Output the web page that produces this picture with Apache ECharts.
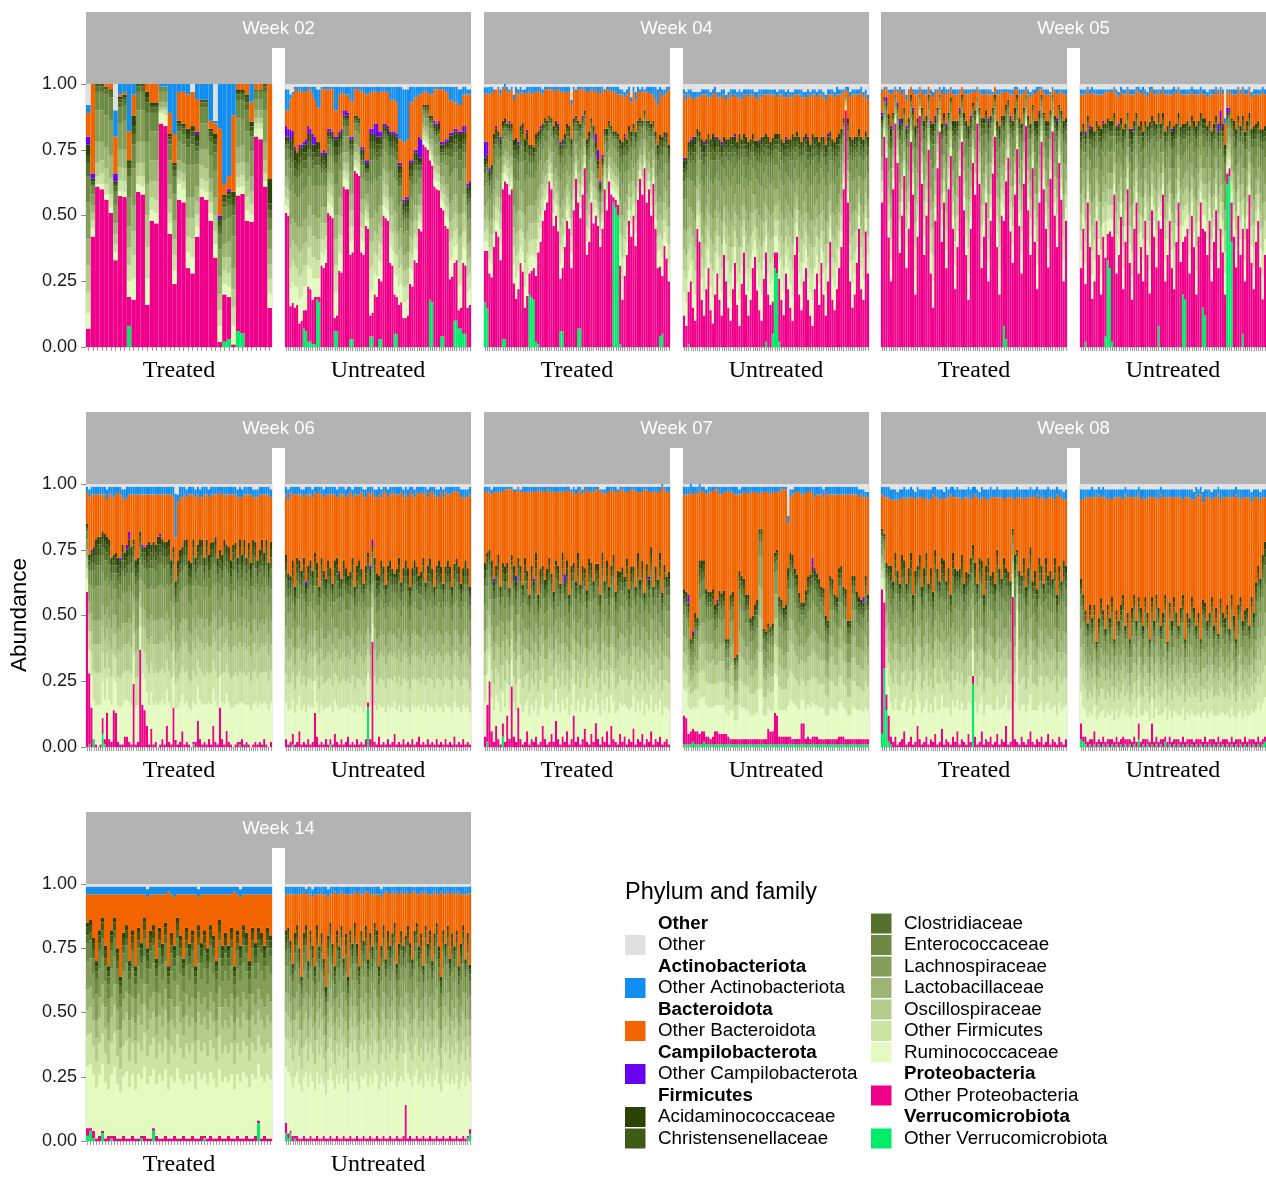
<!DOCTYPE html>
<html><head><meta charset="utf-8">
<script src="https://cdn.jsdelivr.net/npm/echarts@6/dist/echarts.min.js"></script>
<style>html,body{margin:0;padding:0;background:#fff}#c{width:1266px;height:1178px}</style>
</head><body><div id="c"></div>
<script>
// Stack order, bottom to top
const categories = ['Other Verrucomicrobiota','Other Proteobacteria','Ruminococcaceae','Other Firmicutes','Oscillospiraceae','Lactobacillaceae','Lachnospiraceae','Enterococcaceae','Clostridiaceae','Christensenellaceae','Acidaminococcaceae','Other Campilobacterota','Other Bacteroidota','Other Actinobacteriota','Other'];
const colors = ['#00ec68','#f0008a','#e3fbbf','#cbe4a3','#b3cc8c','#9cb574','#849e5a','#6c8a44','#56702e','#3d5a17','#2b4304','#6a00f0','#f26400','#118ef0','#e0e0e0'];
const weeks = ['Week 02','Week 04','Week 05','Week 06','Week 07','Week 08','Week 14'];
const groups = ['Treated','Untreated'];
const yTicks = [0, 0.25, 0.5, 0.75, 1];
// legend rows: [label, category index or -1 for bold phylum header]
const legendRows = [['Other',-1],['Other',14],['Actinobacteriota',-1],['Other Actinobacteriota',13],['Bacteroidota',-1],['Other Bacteroidota',12],['Campilobacterota',-1],['Other Campilobacterota',11],['Firmicutes',-1],['Acidaminococcaceae',10],['Christensenellaceae',9],
['Clostridiaceae',8],['Enterococcaceae',7],['Lachnospiraceae',6],['Lactobacillaceae',5],['Oscillospiraceae',4],['Other Firmicutes',3],['Ruminococcaceae',2],['Proteobacteria',-1],['Other Proteobacteria',1],['Verrucomicrobiota',-1],['Other Verrucomicrobiota',0]];

// one row per sample, columns in `categories` order (estimated read counts, in %)
const W02_Treated = [
[0,7,6,8,10,10,14,10,5,3,4,3,9,3,8],[0,42,3,3,3,3,4,3,1,1,1,2,34,0,0],[0,61,1,3,5,8,12,7,2,1,0,0,0,0,0],[0,60,2,4,5,7,12,7,2,1,0,0,0,0,0],[0,56,2,4,6,8,12,8,2,1,0,0,1,0,0],[0,51,2,5,6,9,13,9,2,1,0,0,2,0,0],
[0,33,3,3,4,4,7,5,2,1,1,3,14,10,10],[0,58,2,4,5,7,10,6,2,1,1,0,1,4,0],[0,57,2,4,5,7,11,6,2,1,1,0,1,3,0],[8,11,6,6,7,8,11,8,3,2,1,0,11,18,0],[0,18,8,9,9,10,14,9,4,3,4,0,8,4,0],[0,59,3,3,5,8,12,7,2,1,0,0,0,0,0],
[0,58,3,4,5,8,12,7,2,1,0,0,0,0,0],[0,16,10,12,12,12,16,11,4,2,2,0,3,0,0],[0,48,4,5,6,8,11,7,2,1,1,0,7,0,0],[0,47,4,5,7,8,11,7,2,1,1,0,7,0,0],[0,85,4,1,1,2,4,2,0,0,0,0,0,1,0],[0,84,4,2,1,2,4,2,0,0,0,0,0,1,0],
[0,43,4,4,5,6,9,6,2,1,1,0,8,11,0],[0,24,5,6,6,7,10,7,2,2,1,0,11,19,0],[0,56,6,2,3,4,7,4,2,1,1,0,11,3,0],[0,55,5,3,3,4,7,4,2,1,1,0,12,3,0],[0,30,6,6,7,8,12,7,3,2,2,0,13,4,0],[0,28,6,7,8,8,12,8,3,2,2,0,13,0,3],
[0,44,4,5,5,6,9,5,2,2,3,1,13,6,0],[0,57,3,4,5,6,10,6,2,1,0,0,0,6,0],[0,56,3,4,5,7,10,6,2,1,0,0,0,6,0],[0,48,3,4,4,5,9,5,2,2,1,0,3,14,0],[0,34,5,5,6,7,10,7,3,2,2,0,4,1,14],[0,2,6,6,6,7,10,6,3,2,1,1,33,17,0],
[2,18,4,5,5,5,9,5,2,2,1,0,4,38,0],[3,16,4,5,6,6,9,5,2,2,1,1,5,35,0],[0,1,7,7,7,8,12,8,4,3,2,0,29,12,0],[6,51,3,4,5,6,11,7,2,1,1,0,2,0,0],[5,52,3,4,5,6,10,7,2,1,1,0,2,0,0],[0,48,4,5,6,7,12,8,3,2,1,0,4,0,0],
[0,50,3,4,5,6,10,6,2,2,2,0,8,7,0],[0,80,3,2,2,3,4,3,1,0,0,0,2,0,0],[0,79,4,2,2,3,4,3,1,0,0,0,2,0,0],[0,61,2,3,5,7,12,7,2,1,0,0,0,0,0],[0,16,6,6,6,6,8,5,3,3,10,0,39,0,0]];

const W02_Untreated = [
[0,51,3,3,4,4,6,4,2,1,2,4,6,8,2],[0,50,3,3,4,4,7,4,2,1,2,3,7,8,2],
[0,16,7,8,8,9,13,9,4,3,4,4,12,2,4],[0,17,8,8,8,8,13,9,4,3,3,2,14,1,3],
[0,15,8,8,8,8,11,7,3,3,4,1,22,1,1],[0,16,7,7,8,8,11,7,3,3,4,0,23,2,1],
[0,9,9,9,9,9,12,8,4,3,4,1,21,1,1],[0,10,9,9,9,9,12,8,4,3,3,1,20,2,1],
[7,7,9,8,8,9,12,8,3,3,3,1,19,2,1],[6,8,9,8,9,9,12,7,3,3,3,2,18,2,1],
[2,21,8,7,8,8,11,7,3,3,3,3,14,1,1],[2,20,8,8,8,8,11,7,3,3,3,2,15,1,1],
[1,17,8,8,8,8,11,7,3,3,3,4,15,3,1],[1,18,7,8,8,8,12,7,3,2,3,3,14,5,1],
[18,1,7,7,8,8,12,8,3,3,3,0,13,7,2],[17,2,7,7,8,8,12,8,3,3,3,0,13,7,2],
[0,31,5,5,6,6,8,5,2,2,3,1,24,1,1],[0,30,5,6,6,6,9,5,2,2,3,1,23,1,1],[0,32,5,5,5,6,8,5,2,2,3,1,24,1,1],
[0,51,4,4,4,4,6,4,2,1,2,1,15,1,1],[0,50,4,4,4,4,7,4,2,1,2,1,15,1,1],[0,49,4,4,4,5,6,4,2,1,2,1,16,1,1],
[6,5,10,10,10,9,12,8,3,3,3,1,10,9,1],[6,6,9,10,10,9,12,8,3,3,3,1,10,9,1],
[0,29,7,7,7,7,10,6,3,2,3,1,14,3,1],[0,28,7,7,7,7,10,7,3,2,3,1,14,2,1],
[0,61,3,3,3,4,6,4,2,1,1,2,6,3,1],[0,60,4,3,3,4,6,4,2,1,1,2,6,3,1],[0,60,3,3,4,4,6,4,2,1,1,1,7,3,1],
[3,32,5,6,6,6,9,6,2,2,2,1,14,5,1],[3,33,5,5,6,6,9,6,2,2,2,1,13,6,1],
[0,67,2,2,3,3,5,3,1,1,1,0,10,1,1],[0,66,2,3,3,3,5,3,1,1,1,0,10,1,1],[0,65,2,3,3,3,5,3,1,1,1,0,11,1,1],
[0,36,5,5,5,5,8,5,2,2,2,1,21,2,1],[0,35,5,5,5,6,8,5,2,2,2,1,21,2,1],
[0,46,3,3,3,3,5,3,1,1,2,1,25,3,1],[0,45,3,3,3,4,5,3,1,1,2,1,25,3,1],
[4,8,9,9,10,9,13,9,4,3,3,2,14,2,1],[4,9,9,9,9,9,13,9,4,3,3,2,14,2,1],
[0,20,8,8,8,8,12,8,3,3,3,4,12,2,1],[0,19,8,8,8,8,12,8,3,3,3,5,12,2,1],
[3,23,7,7,7,7,11,7,3,2,3,2,15,2,1],[3,22,7,7,7,8,11,7,3,2,3,2,15,2,1],
[0,50,4,4,5,5,7,4,2,1,2,1,12,2,1],[0,49,4,4,5,5,7,5,2,1,2,1,12,2,1],[0,48,4,4,5,5,7,5,2,1,2,1,13,2,1],
[0,32,6,6,6,7,10,6,3,2,3,1,12,5,1],[0,31,6,6,7,7,10,6,3,2,3,1,12,5,1],
[5,15,8,8,8,8,12,8,3,3,3,1,12,5,1],[5,14,8,8,8,8,12,8,3,3,3,1,12,6,1],
[0,16,7,7,7,7,10,7,3,2,3,1,9,20,1],[0,17,7,7,7,7,10,6,3,2,3,1,9,20,1],
[0,11,6,6,6,6,8,5,2,2,3,1,22,20,2],[0,11,6,6,6,6,9,5,2,2,3,1,21,20,2],[0,12,6,6,6,6,8,5,2,2,3,1,22,19,2],
[0,24,6,6,6,6,9,6,2,2,3,1,22,6,1],[0,23,6,6,6,6,9,6,3,2,3,1,22,6,1],
[0,33,5,5,5,6,8,5,2,2,3,1,20,4,1],[0,32,5,5,6,6,8,5,2,2,3,1,20,4,1],
[0,45,3,3,3,4,6,3,2,1,2,8,16,3,1],[0,44,3,3,4,4,6,3,2,1,2,7,17,3,1],
[0,77,2,2,2,2,3,2,1,0,1,0,5,2,1],[0,76,2,2,2,2,3,2,1,1,1,0,5,2,1],[0,75,2,2,2,3,3,2,1,1,1,0,5,2,1],
[18,53,2,2,2,2,4,2,1,1,1,0,8,3,1],[17,52,2,2,3,3,4,2,1,1,1,0,8,3,1],
[0,61,3,3,3,3,5,3,1,1,2,1,12,1,1],[0,60,3,3,3,3,5,3,1,1,2,1,13,1,1],[0,59,3,3,3,4,5,3,1,1,2,1,12,1,1],
[4,49,3,3,3,3,5,3,1,1,2,1,20,1,1],[4,48,3,3,3,4,5,3,1,1,2,1,20,1,1],
[0,46,4,4,4,4,7,4,2,1,2,1,18,2,1],[0,45,4,4,4,5,7,4,2,1,2,1,18,2,1],
[0,25,7,7,7,7,10,7,3,2,3,1,12,5,1],[0,26,7,7,7,7,10,6,3,2,3,1,12,5,1],
[10,22,6,6,7,7,10,6,3,2,3,1,10,6,1],[10,23,6,6,6,7,10,6,3,2,3,1,10,6,1],
[7,7,9,9,9,9,13,8,4,3,3,1,10,6,2],[7,8,9,9,9,9,12,8,4,3,3,1,10,6,2],
[5,27,6,6,7,7,10,6,3,2,3,2,12,3,1],[5,26,6,7,7,7,10,6,3,2,3,2,12,3,1],
[0,15,6,6,6,6,9,6,2,2,3,1,34,2,2],[0,16,6,6,6,6,9,6,2,2,3,1,33,2,2]];

const W04_Treated = [
[14,16,3,3,4,4,6,4,2,1,2,5,15,2,1],[12,18,3,4,4,4,6,4,2,1,2,4,15,2,1],[0,28,5,5,5,5,8,5,2,2,2,1,28,3,1],[0,26,5,5,6,6,9,5,2,2,2,0,27,2,1],[0,38,5,5,6,6,9,6,2,2,2,0,16,1,2],[0,44,4,5,5,6,8,5,2,2,2,1,14,0,2],
[0,42,5,5,5,6,8,5,2,2,2,0,16,1,1],[0,33,6,6,6,6,9,6,3,2,2,1,16,2,2],[3,57,3,3,3,4,6,3,1,1,2,0,12,1,1],[3,60,3,3,3,3,5,3,1,1,2,0,12,1,0],[0,62,3,3,3,3,5,3,1,1,1,0,12,2,1],[0,58,3,3,4,4,6,3,1,1,2,1,11,1,2],
[0,60,3,3,3,4,5,3,1,1,2,0,13,1,1],[0,24,7,7,7,8,11,7,3,2,2,0,15,2,4],[0,18,8,8,8,8,12,8,3,2,3,0,17,2,1],[0,22,7,7,8,8,11,7,3,2,2,1,18,2,2],[0,30,6,6,7,7,10,6,3,2,2,0,12,2,1],[0,27,7,7,7,7,11,7,3,2,2,0,11,1,2],
[0,15,8,9,9,9,13,8,3,2,3,0,17,2,2],[0,19,8,8,8,9,12,8,3,2,3,1,14,2,1],[20,8,6,6,7,7,10,6,3,2,2,0,20,2,1],[19,10,6,6,6,7,10,6,3,2,2,0,19,3,1],[18,12,5,6,6,7,10,6,2,2,2,0,21,2,1],[2,25,7,7,7,8,11,7,3,2,2,0,16,2,1],
[1,35,5,6,6,7,10,6,2,2,2,0,15,2,1],[0,40,5,5,6,6,9,6,2,2,2,1,13,2,1],[0,48,4,5,5,5,8,5,2,1,2,0,11,2,2],[0,52,4,4,5,5,8,5,2,1,1,0,11,1,1],[0,55,3,4,4,5,7,4,2,1,1,0,12,1,1],[0,63,3,3,3,4,6,3,1,1,1,0,10,1,1],
[0,60,3,3,4,4,6,4,1,1,1,0,11,1,1],[0,46,5,5,5,5,8,5,2,1,2,0,13,2,1],[0,50,4,4,5,5,8,5,2,1,2,0,12,1,1],[0,44,5,5,5,6,8,5,2,2,2,1,13,1,1],[6,20,6,7,7,7,10,7,3,2,2,1,19,2,1],[6,24,6,6,7,7,10,6,3,2,2,0,18,2,1],
[0,38,5,5,6,6,9,6,2,2,2,0,16,2,1],[0,48,4,5,5,5,8,5,2,1,2,0,12,2,1],[0,45,4,5,5,6,8,5,2,2,2,0,13,2,1],[0,30,6,6,7,7,10,6,3,2,2,0,13,2,6],[0,52,4,4,5,5,8,4,2,1,2,0,11,1,1],[0,64,3,3,3,4,5,3,1,1,1,0,9,1,2],
[7,48,3,4,4,5,7,4,2,1,1,0,12,1,1],[7,42,4,4,5,5,8,5,2,1,2,0,13,1,1],[0,58,3,4,4,4,6,4,2,1,1,1,10,1,1],[0,68,2,3,3,3,5,3,1,1,1,0,8,1,1],[0,35,5,6,6,6,9,6,2,2,2,0,18,2,1],[0,40,5,5,6,6,9,5,2,2,2,0,15,2,1],
[0,55,4,4,4,5,7,4,2,1,1,0,11,1,1],[0,47,4,5,5,5,8,5,2,1,2,0,13,2,1],[0,50,3,3,4,4,6,3,2,1,2,3,17,1,1],[0,46,3,3,3,4,5,3,1,1,2,4,22,2,1],[0,38,3,3,3,3,5,3,1,1,2,1,33,3,1],[0,45,3,3,4,4,6,3,1,1,2,1,25,1,1],
[0,60,3,3,3,3,5,3,1,1,1,0,14,1,2],[0,52,4,4,4,4,6,4,2,1,2,0,15,1,1],[0,63,3,3,3,3,5,3,1,1,1,0,12,1,1],[0,58,3,3,4,4,6,3,1,1,1,0,13,2,1],[55,2,3,3,3,4,6,3,1,1,1,0,15,2,1],[53,3,3,3,3,4,6,4,1,1,1,0,15,2,1],
[50,4,4,3,3,4,6,4,1,1,1,0,15,3,1],[1,30,6,6,6,7,10,6,3,2,2,0,17,2,2],[0,18,8,8,8,8,12,8,3,2,3,0,18,2,2],[0,27,7,7,7,7,11,7,3,2,2,1,14,2,3],[0,35,5,6,6,6,9,6,2,2,2,0,17,2,2],[0,48,4,5,5,5,7,5,2,1,2,0,13,2,1],
[0,42,5,5,5,6,8,5,2,2,2,0,11,2,5],[0,50,4,4,5,5,7,5,2,1,2,0,12,2,1],[0,38,5,5,6,6,9,6,2,2,2,0,12,3,3],[0,56,3,4,4,4,7,4,2,1,1,0,11,2,1],[0,64,3,3,3,3,5,3,1,1,1,0,10,1,2],[0,58,3,4,4,4,6,4,1,1,1,0,11,2,1],
[0,68,2,3,3,3,5,3,1,1,1,0,7,1,2],[0,55,4,4,4,4,7,4,2,1,1,0,11,2,1],[0,60,3,3,4,4,6,3,1,1,1,0,11,2,1],[0,50,4,4,5,5,7,5,2,1,2,0,11,3,1],[0,62,3,3,3,4,5,3,1,1,1,0,10,3,1],[0,45,4,5,5,5,8,5,2,1,2,0,12,5,1],
[0,30,6,6,6,7,10,6,2,2,2,0,15,6,2],[4,26,6,6,7,7,10,6,3,2,2,0,16,2,1],[5,22,7,7,7,7,11,7,3,2,2,0,15,3,2],[0,38,5,5,6,6,9,6,2,2,2,0,14,2,2],[0,33,6,6,6,7,10,6,2,2,2,0,15,2,1],[0,25,7,7,7,7,10,7,3,2,2,0,21,1,1]];

const W04_Untreated = [
[0,12,9,8,8,8,11,7,3,2,3,1,24,2,2],[0,8,9,9,9,9,12,8,3,2,3,0,22,3,3],[1,20,8,8,8,8,11,7,3,2,2,0,18,2,2],[0,25,7,7,7,7,10,7,3,2,3,1,16,3,2],[0,15,9,9,9,9,12,8,3,2,3,1,14,3,3],[0,10,10,9,9,10,13,9,4,3,3,0,15,2,3],
[0,45,5,5,5,5,8,5,2,1,2,0,12,2,3],[0,40,5,5,6,6,9,5,2,2,2,0,13,2,3],[0,18,8,8,8,9,12,8,3,2,3,0,17,2,2],[0,12,9,9,9,9,13,8,3,2,3,1,18,2,2],[0,22,8,8,8,8,11,7,3,2,2,0,17,2,2],[0,30,7,7,7,7,10,6,3,2,2,0,14,3,2],
[0,14,9,9,9,9,13,8,3,2,3,0,16,2,3],[0,9,10,10,10,10,13,9,4,3,3,0,15,2,2],[0,20,8,8,8,8,12,7,3,2,3,1,17,2,1],[0,28,7,7,7,7,10,7,3,2,2,0,15,2,3],[0,18,8,8,8,9,12,8,3,2,3,0,16,2,3],[0,12,9,9,9,9,13,8,3,2,3,1,17,3,2],
[0,35,6,6,6,6,9,6,2,2,2,0,16,2,2],[0,25,7,7,7,8,11,7,3,2,2,0,15,2,4],[0,15,9,9,9,9,12,8,3,2,3,0,16,2,3],[0,10,9,9,10,10,13,9,4,3,3,0,16,2,2],[0,22,8,8,8,8,11,7,3,2,3,0,15,3,2],[0,32,6,6,7,7,10,6,2,2,2,1,15,2,2],
[0,16,8,8,9,9,12,8,3,2,3,0,17,2,3],[0,8,10,10,10,10,14,9,4,3,3,0,14,3,2],[0,24,7,7,8,8,11,7,3,2,2,0,15,3,3],[0,36,6,6,6,6,9,6,2,2,2,0,15,2,2],[0,20,8,8,8,8,12,8,3,2,3,0,16,2,2],[0,12,9,9,9,9,13,8,3,3,3,0,17,3,2],
[0,18,8,8,8,9,12,8,3,2,3,0,17,2,2],[0,30,7,7,7,7,10,6,3,2,2,0,15,2,2],[0,35,6,6,6,6,9,6,2,2,2,0,17,2,3],[0,22,8,8,8,8,11,7,3,2,3,0,16,3,3],[0,14,9,9,9,9,12,8,3,2,3,1,17,2,2],[0,10,10,9,9,10,13,9,4,3,3,0,15,3,2],
[0,26,7,7,7,8,11,7,3,2,2,0,16,2,2],[2,34,6,6,6,6,9,6,2,2,2,0,15,2,2],[0,20,8,8,8,8,12,8,3,2,3,0,16,2,2],[0,16,8,8,9,9,12,8,3,2,3,0,18,2,2],[5,12,8,8,8,9,12,8,3,2,3,0,16,2,2],[30,6,6,6,6,6,9,6,2,2,2,0,15,2,2],
[28,8,6,6,6,6,9,6,2,2,2,0,14,2,3],[2,24,7,7,8,8,11,7,3,2,2,0,15,2,2],[0,18,8,8,8,9,12,8,3,2,3,0,17,2,2],[0,12,9,9,9,9,13,8,3,2,3,0,17,3,2],[0,28,7,7,7,7,10,6,3,2,2,1,15,2,3],[0,22,8,8,8,8,11,7,3,2,2,0,17,2,2],
[0,15,9,9,9,9,12,8,3,2,3,0,16,2,3],[0,10,9,10,10,10,13,9,4,3,3,0,14,2,3],[0,35,6,6,6,6,9,6,2,2,2,0,16,2,2],[0,42,5,5,5,6,8,5,2,2,2,0,14,2,2],[0,20,8,8,8,8,12,8,3,2,3,0,16,2,2],[0,14,9,9,9,9,12,8,3,2,3,0,17,3,2],
[0,25,7,7,8,8,11,7,3,2,2,0,15,2,3],[0,30,7,7,7,7,10,6,3,2,2,0,14,2,3],[0,18,8,8,8,9,12,8,3,2,3,1,16,2,2],[0,12,9,9,9,9,13,8,3,2,3,0,18,2,3],[0,8,10,10,10,10,14,9,4,3,3,0,15,2,2],[0,22,8,8,8,8,11,7,3,2,3,0,16,2,2],
[0,28,7,7,7,7,10,7,3,2,2,0,15,2,3],[0,16,8,8,9,9,12,8,3,2,3,0,18,2,2],[0,32,6,6,7,7,10,6,2,2,2,0,16,2,2],[0,20,8,8,8,8,12,8,3,2,3,0,15,2,3],[0,12,9,9,9,9,13,8,3,2,3,0,17,2,4],[0,25,7,7,8,8,11,7,3,2,2,1,15,2,2],
[0,40,5,5,6,6,9,5,2,2,2,0,14,2,2],[0,18,8,8,8,9,12,8,3,2,3,0,17,2,2],[0,14,9,9,9,9,12,8,3,2,3,0,17,2,3],[0,22,8,8,8,8,11,7,3,2,3,0,16,3,1],[0,30,7,7,7,7,10,6,3,2,2,0,15,2,2],[0,38,6,6,6,6,9,6,2,2,2,0,13,2,2],
[0,60,3,3,4,4,6,4,1,1,1,0,10,1,2],[0,90,1,1,1,1,1,1,0,0,0,0,2,1,1],[0,55,4,4,4,4,7,4,2,1,2,0,10,2,1],[0,25,7,7,8,8,11,7,3,2,2,0,15,2,3],[0,15,9,9,9,9,12,8,3,2,3,0,17,2,2],[0,20,8,8,8,8,12,8,3,2,3,0,16,2,2],
[0,32,6,6,7,7,10,6,2,2,2,0,16,2,2],[0,45,5,5,5,5,8,5,2,1,2,0,13,2,2],[0,22,8,8,8,8,11,7,3,2,3,0,17,2,1],[0,18,8,8,8,9,12,8,3,2,3,0,16,2,3],[0,44,5,5,5,5,8,5,2,1,2,0,14,2,2],[0,28,7,7,7,7,10,7,3,2,2,0,14,2,4]];

const W05_Treated = [
[0,55,4,4,4,5,7,4,2,1,2,1,8,1,2],[0,80,2,2,2,2,3,2,1,0,1,0,4,0,1],[0,72,2,3,3,3,4,3,1,1,1,2,3,1,1],[0,40,6,6,6,6,9,6,2,2,2,0,8,1,2],[0,25,8,8,8,8,11,7,3,2,3,1,12,2,2],[0,60,4,4,4,4,6,4,1,1,1,0,8,1,2],
[0,85,2,1,1,2,2,2,1,0,0,0,2,1,1],[0,70,3,3,3,3,4,3,1,1,1,1,4,1,2],[0,35,6,6,7,7,10,6,2,2,2,2,11,1,1],[0,50,5,5,5,5,7,5,2,1,2,0,9,2,2],[0,65,3,3,3,4,6,4,1,1,1,0,6,1,2],[0,30,8,7,7,7,10,7,3,2,2,1,10,2,4],
[0,45,5,5,6,6,9,5,2,2,2,0,10,1,2],[0,78,2,2,2,3,4,2,1,1,1,0,3,0,1],[0,58,4,4,4,5,7,4,2,1,1,1,6,1,2],[0,20,9,9,9,9,12,8,3,2,3,0,12,2,2],[0,42,6,6,6,6,9,6,2,2,2,0,9,2,2],[0,88,1,1,1,1,2,1,1,0,0,0,2,1,1],
[0,62,4,4,4,4,6,4,1,1,1,0,6,1,2],[0,35,7,7,7,7,10,6,3,2,2,0,10,2,2],[0,50,5,5,5,5,8,5,2,1,2,0,8,2,2],[0,75,2,3,3,3,4,3,1,1,1,0,3,0,1],[0,28,8,8,8,8,11,7,3,2,2,1,10,2,2],[0,15,10,10,10,10,13,9,3,2,3,0,10,2,3],
[0,48,5,5,5,6,8,5,2,1,2,1,9,1,2],[0,68,3,3,3,3,5,3,1,1,1,0,6,1,2],[0,82,2,2,2,2,3,2,1,0,0,0,2,1,1],[0,40,6,6,6,6,9,6,2,2,2,0,11,2,2],[0,55,4,4,5,5,7,4,2,1,2,0,8,2,1],[0,30,7,7,7,8,11,7,3,2,2,1,11,2,2],
[0,60,4,4,4,4,6,4,1,1,1,0,8,1,2],[0,72,3,3,3,3,4,3,1,1,1,0,3,1,1],[0,45,5,5,6,6,8,5,2,2,2,0,10,2,2],[0,22,9,9,9,9,12,8,3,2,3,0,10,2,2],[0,38,6,6,7,7,10,6,2,2,2,0,10,2,2],[0,65,3,3,4,4,5,3,1,1,1,1,6,1,2],
[0,78,2,2,2,3,4,2,1,1,1,0,3,0,1],[0,52,5,5,5,5,7,5,2,1,2,0,8,1,2],[0,35,7,7,7,7,10,6,3,2,2,0,10,2,2],[0,18,10,10,9,9,12,8,3,2,3,0,12,2,2],[0,45,5,5,6,6,9,5,2,2,2,1,9,1,2],[0,70,3,3,3,3,5,3,1,1,1,0,4,1,2],
[0,58,4,4,4,5,7,4,2,1,1,0,7,1,2],[0,85,2,1,1,2,2,2,0,0,0,0,3,1,1],[0,62,4,4,4,4,6,4,1,1,1,0,6,1,2],[0,30,8,8,8,8,11,7,3,2,2,0,9,2,2],[0,42,6,6,6,6,9,6,2,2,2,0,9,2,2],[0,55,4,5,5,5,7,4,2,1,2,0,7,1,2],
[0,25,8,8,8,9,12,8,3,2,3,1,9,2,2],[0,48,5,5,6,6,8,5,2,1,2,0,8,2,2],[0,66,3,3,4,4,5,3,1,1,1,0,5,1,3],[0,80,2,2,2,2,3,2,1,1,1,0,3,0,1],[0,38,6,6,7,7,10,6,2,2,2,0,10,2,2],[0,20,9,9,9,9,12,8,3,2,3,0,12,2,2],
[0,50,5,5,5,5,8,5,2,1,2,0,9,1,2],[8,40,5,5,5,6,8,5,2,2,2,0,9,1,2],[3,60,4,4,4,4,6,4,1,1,1,0,5,1,2],[0,72,3,3,3,3,4,3,1,1,1,0,3,1,2],[0,44,5,6,6,6,9,5,2,2,2,1,8,2,2],[0,32,7,7,7,8,11,7,3,2,2,0,10,2,2],
[0,58,4,4,4,5,7,4,2,1,2,0,7,1,1],[0,76,2,3,3,3,4,3,1,1,1,0,2,1,1],[0,46,5,5,6,6,8,5,2,2,2,0,9,2,2],[0,28,8,8,8,8,11,7,3,2,2,0,11,2,2],[0,62,4,4,4,4,6,4,1,1,1,0,6,1,2],[0,84,2,1,2,2,3,2,0,0,0,0,2,1,1],
[0,52,5,5,5,5,7,4,2,1,2,0,8,2,2],[0,35,7,7,7,7,10,6,2,2,2,0,10,2,3],[0,68,3,3,3,4,5,3,1,1,1,0,5,1,2],[0,40,6,6,6,7,9,6,2,2,2,0,10,2,2],[0,22,9,9,9,9,12,8,3,2,3,0,11,2,1],[0,55,4,4,5,5,7,4,2,1,2,1,8,1,1],
[0,78,2,2,2,3,4,2,1,1,1,0,2,1,1],[0,60,4,4,4,4,6,4,1,1,1,0,8,1,2],[0,45,5,5,6,6,8,5,2,2,2,0,10,2,2],[0,30,7,7,8,8,11,7,3,2,2,0,10,2,2],[0,64,3,4,4,4,5,3,1,1,1,0,6,1,3],[0,82,2,2,2,2,3,2,1,0,0,0,2,1,1],
[0,50,5,5,5,5,8,5,2,1,2,0,9,1,2],[0,38,6,6,7,7,10,6,2,2,2,1,9,2,2],[0,70,3,3,3,3,4,3,1,1,1,0,5,1,2],[0,56,4,4,5,5,7,4,2,1,2,0,7,1,2],[0,25,8,8,8,9,12,8,3,2,3,0,10,2,2],[0,48,5,5,5,6,8,5,2,1,2,0,9,2,2]];

const W05_Untreated = [
[0,30,7,7,7,7,10,7,3,2,2,0,14,2,2],[0,45,5,5,5,6,8,5,2,2,2,0,11,2,2],[2,22,8,8,8,8,11,7,3,2,2,1,14,2,2],[0,55,4,4,4,5,7,4,2,1,2,0,10,1,1],[0,38,6,6,6,6,9,6,2,2,2,1,12,2,2],[0,18,9,9,9,9,12,8,3,2,3,0,13,2,1],
[0,25,8,8,8,8,11,7,3,2,2,0,14,2,2],[0,48,5,5,5,5,8,5,2,1,2,0,10,2,2],[0,35,6,7,7,7,10,6,2,2,2,0,12,2,2],[0,20,8,9,9,9,12,8,3,2,3,0,13,2,2],[0,42,5,6,6,6,9,5,2,2,2,1,10,2,2],[4,30,7,7,7,7,10,6,3,2,2,0,12,1,2],
[33,10,5,6,6,6,9,6,2,2,2,0,10,1,2],[30,14,5,5,6,6,8,6,2,2,2,0,11,1,2],[2,40,6,6,6,6,9,5,2,2,2,0,11,1,2],[0,58,4,4,4,4,6,4,2,1,2,0,9,1,1],[0,28,7,8,8,8,11,7,3,2,2,0,12,2,2],[0,35,6,7,7,7,10,6,2,2,2,1,10,2,3],
[0,50,5,5,5,5,8,5,2,1,2,0,10,2,1],[0,22,8,8,8,9,12,8,3,2,3,0,13,2,2],[0,40,6,6,6,6,9,6,2,2,2,0,11,2,2],[0,60,4,4,4,4,6,4,1,1,1,0,9,1,1],[0,32,7,7,7,7,10,6,3,2,2,0,13,2,2],[0,18,9,9,9,9,12,8,3,2,3,1,13,2,2],
[0,45,5,5,6,6,8,5,2,2,2,0,10,2,2],[0,55,4,4,5,5,7,4,2,1,2,0,9,1,1],[0,28,7,8,8,8,11,7,3,2,2,0,13,2,1],[0,38,6,6,7,7,10,6,2,2,2,0,10,2,2],[0,25,8,8,8,8,11,7,3,2,2,0,15,2,1],[0,48,5,5,5,5,8,5,2,1,2,0,10,2,2],
[0,35,6,7,7,7,10,6,2,2,2,0,11,2,3],[0,20,9,9,9,9,12,8,3,2,3,0,11,2,1],[0,52,5,5,5,5,7,4,2,1,2,0,10,1,1],[0,42,6,6,6,6,9,5,2,2,2,0,10,2,2],[0,30,7,7,7,8,11,7,3,2,2,0,11,2,2],[8,40,5,5,6,6,8,5,2,2,2,0,8,1,2],
[0,45,5,5,5,6,8,5,2,2,2,0,11,2,2],[0,58,4,4,4,4,6,4,2,1,2,0,9,1,1],[0,25,8,8,8,8,11,7,3,2,2,0,14,2,2],[0,35,6,7,7,7,10,6,2,2,2,0,12,2,2],[0,48,5,5,5,5,8,5,2,1,2,0,10,2,2],[0,30,7,7,7,7,10,7,3,2,2,1,13,2,2],
[0,22,8,8,9,9,12,8,3,2,3,0,13,2,1],[0,40,6,6,6,6,9,6,2,2,2,0,11,2,2],[0,55,4,4,5,5,7,4,2,1,2,0,9,1,1],[0,32,7,7,7,7,10,6,3,2,2,0,12,2,2],[20,20,6,6,6,6,9,6,2,2,2,0,11,2,2],[18,24,6,6,6,6,8,5,2,2,2,0,11,2,2],
[0,45,5,5,6,6,8,5,2,2,2,0,10,2,2],[0,28,7,8,8,8,11,7,3,2,2,0,12,2,2],[0,50,5,5,5,5,8,5,2,1,2,0,9,2,1],[0,38,6,6,7,7,10,6,2,2,2,0,10,2,2],[0,20,9,9,9,9,12,8,3,2,3,0,12,2,2],[0,42,6,6,6,6,9,5,2,2,2,0,10,2,2],
[0,55,4,4,5,5,7,4,2,1,2,0,8,2,1],[15,30,5,6,6,6,8,5,2,2,2,0,9,2,2],[12,32,6,6,6,6,8,5,2,2,2,0,9,2,2],[0,35,6,7,7,7,10,6,2,2,2,0,11,2,3],[0,48,5,5,5,5,8,5,2,1,2,0,10,2,2],[0,25,8,8,8,8,11,7,3,2,2,0,14,2,2],
[0,40,6,6,6,6,9,6,2,2,2,0,11,2,2],[0,52,5,5,5,5,7,4,2,1,2,0,10,1,1],[0,30,7,7,7,7,10,7,3,2,2,3,11,2,2],[0,45,5,5,6,6,8,5,2,2,2,4,8,1,1],[0,36,6,6,7,7,10,6,2,2,2,1,11,2,2],[0,20,8,8,8,8,11,7,3,2,2,0,8,2,13],
[62,4,3,3,3,3,5,3,1,1,1,2,6,1,2],[65,3,3,3,3,3,4,3,1,1,1,1,6,1,2],[40,15,4,4,4,5,7,4,2,1,1,0,9,2,2],[0,42,6,6,6,6,9,5,2,2,2,0,10,2,2],[0,30,7,7,7,7,10,7,3,2,2,0,13,2,2],[0,50,5,5,5,5,8,5,2,1,2,0,10,1,1],
[0,35,6,7,7,7,10,6,2,2,2,0,12,2,2],[5,40,5,6,6,6,9,5,2,2,2,0,10,1,1],[0,25,8,8,8,8,11,7,3,2,2,0,14,2,2],[0,45,5,5,6,6,8,5,2,2,2,0,10,2,2],[0,58,4,4,4,4,6,4,2,1,2,0,9,1,1],[0,32,7,7,7,7,10,6,3,2,2,0,12,2,3],
[0,22,8,8,9,9,12,8,3,2,3,0,12,2,2],[0,40,6,6,6,6,9,6,2,2,2,0,11,2,2],[0,48,5,5,5,5,8,5,2,1,2,0,10,2,2],[0,30,7,7,7,7,10,7,3,2,2,0,13,2,2],[0,18,9,9,9,9,12,8,3,2,3,0,14,2,1],[0,35,6,7,7,7,10,6,2,2,2,0,12,2,2]];

const W06_Treated = [
[0,59,5,4,4,3,4,3,1,1,1,0,12,2,1],[1,27,9,7,6,5,7,5,2,2,2,0,22,3,2],[0,15,12,9,8,7,10,6,3,2,2,1,21,3,1],[3,0,15,11,10,9,12,7,3,3,3,0,20,3,1],[0,1,15,12,11,9,13,8,4,3,3,0,17,3,1],[0,0,16,12,11,9,13,8,4,4,3,0,16,3,1],
[0,1,15,12,11,9,13,8,4,4,3,0,16,3,1],[5,6,14,11,10,8,12,7,3,3,3,0,14,3,1],[1,2,15,12,11,9,13,8,4,3,3,0,15,3,1],[0,13,13,10,9,8,11,7,3,3,3,0,14,4,2],[0,3,15,12,10,9,12,8,4,3,3,0,17,3,1],[0,2,14,11,10,8,11,7,3,3,3,0,24,3,1],
[0,14,12,9,8,7,10,6,3,2,2,0,22,4,1],[0,13,12,9,9,7,10,6,3,3,2,0,22,3,1],[0,2,14,11,10,8,11,7,3,3,3,0,25,2,1],[0,1,14,11,10,8,11,7,3,3,3,1,24,3,1],[0,1,15,12,10,9,12,8,4,3,3,0,18,3,2],[0,4,14,11,10,8,11,7,3,3,3,0,20,4,2],
[0,4,14,11,10,8,12,7,3,3,3,2,18,4,1],[0,2,15,12,11,9,12,8,4,3,3,3,14,3,1],[0,1,15,12,10,9,12,7,4,3,3,0,20,3,1],[0,24,11,8,8,6,9,6,3,2,2,0,17,3,1],[0,1,14,11,10,8,11,7,3,3,3,0,25,3,1],[0,2,14,11,10,8,11,7,3,3,3,0,24,3,1],
[0,37,9,7,6,5,7,5,2,2,2,0,14,3,1],[0,16,12,9,9,7,10,6,3,2,2,1,19,3,1],[0,14,12,10,9,7,10,6,3,3,2,0,20,3,1],[0,8,13,10,10,8,11,7,3,3,3,1,19,3,1],[0,1,15,12,11,9,12,8,4,3,3,0,18,3,1],[0,7,14,11,10,8,11,7,3,3,3,0,19,3,1],
[0,1,15,12,11,9,12,8,4,3,3,0,18,3,1],[0,2,15,12,10,9,12,7,4,3,3,0,19,3,1],[0,0,16,12,11,9,13,8,4,4,3,0,16,3,1],[0,1,16,12,11,9,13,8,4,3,3,1,15,3,1],[0,3,15,12,10,9,12,8,4,3,3,0,17,3,1],[0,1,15,12,11,9,12,8,4,3,3,0,18,3,1],
[0,8,14,11,10,8,11,7,3,3,3,0,18,3,1],[0,2,15,12,11,9,12,8,4,3,3,0,17,3,1],[0,1,14,11,10,8,11,7,3,3,3,0,25,3,1],[0,15,12,10,9,7,10,6,3,2,2,0,19,4,1],[0,3,13,10,9,8,10,6,3,3,3,0,18,18,4],[0,1,14,11,10,8,11,7,3,3,3,0,22,3,4],
[0,2,15,11,10,9,12,7,3,3,3,0,20,4,1],[0,6,14,11,10,8,11,7,3,3,3,0,19,4,1],[0,1,15,12,11,9,12,8,4,3,3,0,17,3,1],[0,2,15,12,11,9,12,8,4,3,3,0,16,3,2],[0,1,14,11,10,8,11,7,3,3,3,0,25,3,1],[0,0,14,11,10,8,11,7,3,3,3,0,26,3,1],
[1,1,15,12,11,9,12,8,4,3,3,0,17,3,1],[0,2,14,11,10,8,11,7,3,3,3,0,23,3,2],[0,10,13,10,9,8,11,7,3,3,3,0,19,3,1],[0,3,15,12,10,9,12,8,4,3,3,0,16,3,2],[0,1,15,12,11,9,12,8,4,3,3,0,16,4,1],[0,2,14,11,10,8,11,7,3,3,3,0,24,3,1],
[0,1,15,12,11,9,12,8,4,3,3,0,17,3,1],[0,3,14,11,10,8,11,7,3,3,3,0,22,3,2],[0,1,15,12,10,9,12,8,4,3,3,0,18,3,1],[0,8,14,11,10,8,11,7,3,3,3,0,18,3,1],[0,2,15,12,11,9,12,8,4,3,3,0,16,3,1],[0,1,14,11,10,8,11,7,3,3,3,0,24,3,1],
[0,15,12,9,9,7,10,6,3,2,2,0,22,2,1],[0,3,14,11,10,8,11,7,3,3,3,0,23,3,1],[0,1,15,12,11,9,12,8,4,3,3,0,17,3,1],[0,6,14,11,10,8,11,7,3,3,3,0,19,3,1],[0,2,15,11,10,9,12,7,4,3,3,0,20,3,1],[0,1,14,11,10,8,11,7,3,3,3,0,25,3,1],
[0,0,15,12,11,9,12,8,4,3,3,0,19,3,1],[0,1,15,12,10,9,12,8,4,3,3,0,18,3,1],[0,2,14,11,10,8,11,7,3,3,3,0,23,3,2],[1,1,15,12,11,9,12,8,4,3,3,0,16,4,1],[0,3,14,11,10,8,11,7,3,3,3,0,22,3,2],[0,1,15,12,11,9,12,8,4,3,3,0,17,3,1],
[0,2,14,11,10,8,11,7,3,3,3,0,24,3,1],[0,1,15,12,10,9,12,8,4,3,3,0,18,3,1],[0,0,14,11,10,8,11,7,3,3,3,0,26,3,1],[0,1,15,12,11,9,12,8,4,3,3,0,16,3,2],[0,2,15,12,10,9,12,8,4,3,3,0,17,3,2],[0,1,14,11,10,8,11,7,3,3,3,0,24,3,2],
[0,2,15,11,10,9,12,7,3,3,3,0,21,3,1],[0,1,15,12,11,9,12,8,4,3,3,0,17,3,1],[0,3,14,11,10,8,11,7,3,3,3,0,22,3,1],[0,1,15,12,11,9,12,8,4,3,3,0,17,3,1],[0,0,14,11,10,8,11,7,3,3,3,0,26,3,1],[0,2,15,12,10,9,12,8,4,3,3,0,17,3,2]];

const W06_Untreated = [
[0,3,14,11,10,8,11,7,3,3,3,0,23,3,1],[0,1,13,10,9,8,10,6,3,3,3,0,28,4,2],[0,2,12,10,9,7,10,6,3,2,2,0,31,2,1],[1,4,13,10,9,8,10,7,3,3,3,0,25,3,1],[0,1,12,9,9,7,10,6,3,2,2,0,35,3,1],[0,2,14,11,10,8,11,7,3,3,3,0,24,3,1],
[0,6,13,10,9,8,10,6,3,3,3,0,25,3,1],[0,1,13,10,9,8,10,7,3,3,3,0,29,2,2],[0,2,14,11,10,8,11,7,3,3,3,0,23,3,2],[0,1,12,10,9,7,10,6,3,2,2,1,33,3,1],[0,3,13,10,9,8,10,7,3,3,3,0,27,3,1],[0,1,14,11,10,8,11,7,3,3,3,0,25,3,1],
[0,2,13,10,9,8,10,6,3,3,3,0,28,3,2],[0,13,12,10,9,7,10,6,3,2,2,0,23,2,1],[0,4,13,10,9,8,10,7,3,3,3,0,26,3,1],[0,1,12,9,9,7,10,6,3,2,2,0,36,2,1],[0,2,14,11,10,8,11,7,3,3,3,0,24,3,1],[0,1,13,10,9,8,10,7,3,3,3,0,28,3,2],
[0,3,12,10,9,7,10,6,3,2,2,0,32,3,1],[0,1,14,11,10,8,11,7,3,3,3,0,25,3,1],[1,2,13,10,9,8,10,6,3,3,3,0,28,3,1],[0,1,12,10,9,7,10,6,3,2,2,0,34,3,1],[0,5,13,10,9,8,10,7,3,3,3,0,25,3,1],[0,2,14,11,10,8,11,7,3,3,3,0,23,3,2],
[0,1,13,10,9,8,10,6,3,3,3,1,29,3,1],[0,3,12,10,9,7,10,6,3,2,2,0,32,3,1],[0,1,14,11,10,8,11,7,3,3,3,0,25,3,1],[0,2,13,10,9,8,10,7,3,3,3,0,27,3,2],[0,4,12,10,9,7,10,6,3,2,2,0,31,3,1],[0,1,13,10,9,8,10,6,3,3,3,0,30,2,1],
[0,2,14,11,10,8,11,7,3,3,3,0,23,3,2],[0,1,12,9,9,7,10,6,3,2,2,0,35,3,1],[0,3,13,10,9,8,10,7,3,3,3,0,27,3,1],[0,1,14,11,10,8,11,7,3,3,3,0,25,3,1],[0,2,13,10,9,8,10,6,3,3,3,0,29,2,1],[0,1,12,10,9,7,10,6,3,2,2,0,33,3,2],
[0,3,13,10,9,8,10,7,3,3,3,0,26,3,2],[15,2,11,9,8,7,9,6,3,2,2,0,23,2,1],[0,3,13,10,9,8,10,6,3,3,3,1,27,3,1],[0,40,7,6,5,4,6,4,2,1,1,3,18,2,1],[0,2,14,11,10,8,11,7,3,3,3,0,23,3,2],[0,1,13,10,9,8,10,6,3,3,3,0,29,3,2],
[0,4,12,10,9,7,10,6,3,2,2,0,31,3,1],[0,1,14,11,10,8,11,7,3,3,3,0,24,3,2],[0,2,13,10,9,8,10,7,3,3,3,0,28,2,1],[0,1,12,9,9,7,10,6,3,2,2,0,35,2,1],[0,3,13,10,9,8,10,7,3,3,3,0,26,3,2],[0,1,14,11,10,8,11,7,3,3,3,0,25,3,1],
[0,2,13,10,9,8,10,6,3,3,3,0,29,2,1],[0,5,12,10,9,7,10,6,3,2,2,0,30,3,1],[0,1,13,10,9,8,10,7,3,3,3,0,28,3,1],[0,2,14,11,10,8,11,7,3,3,3,0,24,3,1],[0,1,12,10,9,7,10,6,3,2,2,0,34,2,1],[0,3,13,10,9,8,10,6,3,3,3,0,27,3,2],
[0,1,14,11,10,8,11,7,3,3,3,0,25,3,1],[0,2,13,10,9,8,10,7,3,3,3,0,27,3,2],[0,1,12,9,9,7,10,6,3,2,2,0,36,2,1],[0,3,13,10,9,8,10,6,3,3,3,0,28,3,1],[0,1,14,11,10,8,11,7,3,3,3,0,24,3,2],[0,2,13,10,9,8,10,7,3,3,3,0,28,2,1],
[0,4,12,10,9,7,10,6,3,2,2,0,31,3,1],[0,1,13,10,9,8,10,6,3,3,3,0,30,2,1],[0,2,14,11,10,8,11,7,3,3,3,0,24,3,1],[0,1,12,10,9,7,10,6,3,2,2,0,34,2,1],[0,3,13,10,9,8,10,7,3,3,3,0,26,3,2],[0,1,14,11,10,8,11,7,3,3,3,0,25,2,1],
[0,2,13,10,9,8,10,6,3,3,3,0,29,2,1],[0,1,12,9,9,7,10,6,3,2,2,0,35,3,1],[0,3,13,10,9,8,10,7,3,3,3,0,26,3,2],[0,1,14,11,10,8,11,7,3,3,3,0,24,3,2],[0,2,13,10,9,8,10,7,3,3,3,0,28,2,1],[0,1,12,10,9,7,10,6,3,2,2,0,33,3,2],
[0,3,13,10,9,8,10,6,3,3,3,0,28,2,1],[0,1,14,11,10,8,11,7,3,3,3,0,25,3,1],[0,2,13,10,9,8,10,7,3,3,3,0,27,3,1],[0,1,12,9,9,7,10,6,3,2,2,0,36,2,1],[0,4,13,10,9,8,10,6,3,3,3,0,27,2,1],[0,1,14,11,10,8,11,7,3,3,3,0,25,2,1],
[0,2,13,10,9,8,10,7,3,3,3,0,28,2,1],[0,1,12,10,9,7,10,6,3,2,2,0,33,3,2],[0,3,13,10,9,8,10,6,3,3,3,0,27,3,2],[0,1,14,11,10,8,11,7,3,3,3,0,24,3,2],[0,2,13,10,9,8,10,7,3,3,3,0,27,3,2],[0,1,12,9,9,7,10,6,3,2,2,0,35,3,1]];

const W07_Treated = [
[0,4,13,10,9,8,10,7,3,3,3,0,27,2,1],[2,14,12,9,8,7,9,6,3,2,2,0,23,2,1],[0,25,10,8,7,6,8,5,2,2,2,0,22,2,1],[0,6,13,10,9,8,10,6,3,3,3,0,25,2,2],[0,2,12,10,9,7,10,6,3,2,2,1,33,2,1],[0,8,12,10,9,7,10,6,3,2,2,0,28,2,1],
[0,3,14,11,10,8,11,7,3,3,3,0,24,2,1],[0,1,12,9,9,7,10,6,3,2,2,0,36,2,1],[4,5,12,10,9,7,10,6,3,2,2,0,27,2,1],[0,2,13,10,9,8,10,7,3,3,3,0,29,1,1],[0,12,12,9,8,7,9,6,3,2,2,0,28,1,1],[0,3,11,9,8,7,9,6,3,2,2,0,37,1,1],
[0,23,10,8,7,6,8,5,2,2,2,0,25,1,1],[0,4,13,10,9,8,10,6,3,3,3,0,28,1,2],[0,2,12,10,9,7,10,6,3,2,2,2,32,1,2],[0,15,11,9,8,7,9,6,3,2,2,0,26,1,1],[0,3,13,10,9,8,10,7,3,3,3,0,28,1,2],[0,1,12,9,9,7,10,6,3,2,2,0,35,2,1],
[0,2,14,11,10,8,11,7,3,3,3,0,25,2,1],[0,6,12,10,9,7,10,6,3,2,2,0,30,2,1],[0,1,11,9,8,7,9,6,3,2,2,0,39,2,1],[0,3,13,10,9,8,10,7,3,3,3,0,28,2,1],[0,2,12,10,9,7,10,6,3,2,2,1,33,2,1],[0,4,14,11,10,8,11,7,3,3,3,0,23,2,1],
[0,1,11,9,8,7,9,6,3,2,2,0,40,1,1],[0,2,13,10,9,8,10,6,3,3,3,0,29,2,1],[0,8,12,10,9,7,10,6,3,2,2,0,28,2,1],[0,3,12,9,9,7,10,6,3,2,2,0,33,2,1],[0,1,13,10,9,8,10,7,3,3,3,0,30,1,1],[0,2,14,11,10,8,11,7,3,3,3,0,25,2,1],
[0,5,12,10,9,7,10,6,3,2,2,0,31,2,1],[0,2,11,9,8,7,9,6,3,2,2,0,38,2,1],[0,10,12,10,9,7,10,6,3,2,2,0,26,2,1],[0,3,13,10,9,8,10,7,3,3,3,0,28,2,1],[0,1,12,10,9,7,10,6,3,2,2,0,35,2,1],[0,4,14,11,10,8,11,7,3,3,3,0,23,2,1],
[0,2,12,9,9,7,10,6,3,2,2,3,31,2,1],[0,6,13,10,9,8,10,6,3,3,3,0,27,1,1],[0,1,11,9,8,7,9,6,3,2,2,0,39,2,1],[0,3,13,10,9,8,10,7,3,3,3,0,28,1,2],[0,12,12,9,8,7,9,6,3,2,2,0,27,2,1],[0,2,12,10,9,7,10,6,3,2,2,0,33,2,2],
[0,4,14,11,10,8,11,7,3,3,3,0,23,2,1],[0,1,12,9,9,7,10,6,3,2,2,0,36,1,1],[0,3,13,10,9,8,10,7,3,3,3,0,27,2,2],[0,7,12,10,9,7,10,6,3,2,2,0,29,2,1],[0,2,11,9,8,7,9,6,3,2,2,0,38,1,1],[0,1,14,11,10,8,11,7,3,3,3,0,25,2,1],
[0,5,13,10,9,8,10,6,3,3,3,0,27,2,1],[0,2,12,10,9,7,10,6,3,2,2,0,34,2,1],[0,9,12,9,9,7,10,6,3,2,2,0,28,1,1],[0,3,13,10,9,8,10,7,3,3,3,0,28,1,1],[0,1,11,9,8,7,9,6,3,2,2,0,39,1,2],[0,4,14,11,10,8,11,7,3,3,3,0,23,1,2],
[0,2,12,10,9,7,10,6,3,2,2,0,33,2,2],[0,6,13,10,9,8,10,6,3,3,3,0,26,2,1],[0,1,12,9,9,7,10,6,3,2,2,0,36,2,1],[0,8,12,10,9,7,10,6,3,2,2,0,29,1,1],[0,3,14,11,10,8,11,7,3,3,3,0,24,2,1],[0,2,11,9,8,7,9,6,3,2,2,0,38,2,1],
[0,1,13,10,9,8,10,7,3,3,3,0,30,1,2],[0,5,12,10,9,7,10,6,3,2,2,0,31,1,1],[0,2,13,10,9,8,10,6,3,3,3,0,29,1,1],[0,4,12,9,9,7,10,6,3,2,2,0,32,2,1],[0,1,14,11,10,8,11,7,3,3,3,0,25,2,1],[0,3,11,9,8,7,9,6,3,2,2,0,37,2,1],
[0,2,13,10,9,8,10,7,3,3,3,0,29,1,1],[0,7,12,10,9,7,10,6,3,2,2,0,29,1,1],[0,1,12,9,9,7,10,6,3,2,2,0,36,2,1],[0,3,14,11,10,8,11,7,3,3,3,0,23,2,1],[0,2,12,10,9,7,10,6,3,2,2,0,33,2,1],[0,5,13,10,9,8,10,6,3,3,3,0,26,2,1],
[0,1,11,9,8,7,9,6,3,2,2,0,39,1,1],[0,3,13,10,9,8,10,7,3,3,3,0,28,1,1],[0,2,12,10,9,7,10,6,3,2,2,1,32,2,1],[0,6,14,11,10,8,11,7,3,3,3,0,21,2,1],[0,1,12,9,9,7,10,6,3,2,2,0,36,2,1],[0,3,13,10,9,8,10,6,3,3,3,0,28,2,1],
[0,2,12,10,9,7,10,6,3,2,2,0,33,2,1],[0,4,14,11,10,8,11,7,3,3,3,0,23,2,1],[0,1,11,9,8,7,9,6,3,2,2,0,40,1,0],[0,2,13,10,9,8,10,7,3,3,3,0,28,1,1],[0,3,12,10,9,7,10,6,3,2,2,0,32,2,1],[0,1,13,10,9,8,10,6,3,3,3,0,30,2,1]];

const W07_Untreated = [
[1,11,10,7,7,6,8,4,2,2,2,0,36,3,1],[1,10,10,7,7,6,8,4,2,2,2,0,37,3,1],[1,4,10,8,8,6,8,4,2,2,2,3,38,3,1],[1,5,8,6,5,4,5,3,2,1,1,0,56,3,0],[2,5,8,6,6,4,5,3,2,1,1,1,52,3,1],[1,5,9,7,7,5,7,4,2,2,2,0,46,2,1],
[1,5,9,7,6,5,7,4,2,1,2,0,47,3,1],[1,4,13,10,10,8,10,6,3,3,3,0,27,2,0],[1,5,13,10,10,8,10,6,3,2,3,0,26,2,1],[2,4,13,10,10,8,11,6,3,2,2,0,26,2,1],[1,3,12,9,8,7,9,5,2,2,2,0,36,2,2],[1,3,11,9,8,7,9,5,2,2,2,0,38,2,1],
[1,2,12,9,8,7,9,5,2,2,2,0,38,2,1],[1,3,11,9,9,7,9,5,2,2,2,0,37,2,1],[1,5,10,8,7,6,7,4,2,2,2,0,44,1,1],[1,5,10,8,7,6,8,4,2,2,2,1,42,1,1],[1,4,11,9,8,7,9,5,2,2,2,0,37,3,1],[1,4,11,9,8,6,9,5,2,2,2,0,38,3,1],
[1,4,11,9,8,7,9,5,2,2,2,0,38,2,1],[1,4,8,6,6,4,5,3,2,1,1,0,56,2,1],[1,3,8,6,6,5,5,3,2,1,1,0,56,2,1],[1,2,11,9,8,7,9,5,2,2,2,0,39,2,1],[1,2,11,9,9,7,9,5,2,2,2,0,38,2,1],[1,2,7,6,5,4,4,2,1,1,1,0,62,3,1],
[1,2,7,6,5,4,5,2,1,1,1,0,61,3,1],[1,2,13,10,10,8,10,6,3,2,2,0,29,2,2],[1,2,12,10,9,8,10,6,3,2,2,0,31,3,1],[1,2,12,9,9,8,10,6,3,2,2,0,33,2,1],[1,2,11,9,8,7,9,5,2,2,2,0,39,2,1],[1,2,11,9,8,7,9,5,2,2,2,0,38,3,1],
[1,2,9,8,7,6,7,4,2,1,2,0,48,2,1],[1,2,9,8,7,6,7,4,2,2,2,0,47,2,1],[1,2,10,8,8,6,8,5,2,2,2,0,43,2,1],[1,2,10,9,8,7,8,5,2,2,2,0,41,2,1],[1,2,19,14,14,11,12,5,3,2,0,0,13,3,1],[1,2,19,14,13,11,12,6,3,2,0,0,14,2,1],
[1,2,9,7,7,5,6,4,2,1,1,0,52,2,1],[1,2,9,7,6,5,6,4,2,1,1,0,53,2,1],[1,6,8,7,6,5,6,4,2,1,1,0,50,2,1],[1,5,8,7,6,5,7,3,2,1,1,0,51,3,1],[1,5,8,7,6,5,6,4,2,1,2,0,50,2,1],[1,12,15,11,10,9,8,4,2,1,1,0,23,2,1],
[1,11,15,11,11,9,9,4,2,1,1,0,22,2,1],[1,3,10,9,8,7,8,5,2,2,2,0,40,2,1],[1,3,10,8,8,7,8,5,2,2,2,0,42,1,1],[1,3,10,8,7,6,8,4,2,2,2,0,45,1,1],[1,3,10,8,8,6,8,4,2,2,2,0,44,1,1],[1,3,12,10,10,8,10,6,3,2,3,0,17,3,12],
[1,3,14,11,11,9,11,6,3,2,3,0,21,3,2],[1,2,14,11,11,9,11,6,3,2,3,0,23,2,2],[1,2,13,10,10,8,10,6,3,2,2,0,29,2,1],[1,2,12,10,9,8,10,6,3,2,2,0,31,2,1],[1,2,11,9,8,7,9,5,2,2,2,0,38,2,1],[1,8,9,8,7,6,7,4,2,1,2,0,41,3,1],
[1,8,9,7,7,6,8,4,2,1,2,0,41,3,1],[1,2,11,9,9,7,9,5,2,2,2,0,37,2,1],[1,3,12,9,9,7,10,6,3,2,2,0,32,2,1],[1,2,12,10,9,8,10,6,3,2,2,0,31,2,1],[1,3,13,10,10,8,10,6,3,2,3,3,25,2,1],[1,3,12,10,10,8,10,6,3,2,2,1,27,4,1],
[1,3,12,10,9,8,10,6,3,2,2,0,30,3,1],[1,2,12,9,9,8,10,6,3,2,2,0,32,3,1],[1,2,12,9,9,7,10,5,2,2,2,0,35,3,1],[1,2,12,9,9,7,9,5,3,2,2,0,35,3,2],[1,2,9,8,7,6,7,4,2,2,2,0,47,2,1],[1,2,9,7,7,6,7,4,2,2,1,0,48,3,1],
[1,2,12,10,9,8,10,6,3,2,2,0,31,3,1],[1,2,12,10,9,8,10,5,3,2,2,0,32,3,1],[1,2,11,9,8,7,9,5,2,2,2,0,38,3,1],[1,2,11,9,8,7,8,5,2,2,2,0,39,3,1],[1,3,13,10,10,8,10,6,3,2,2,0,28,3,1],[1,3,13,10,10,8,10,6,3,2,3,0,27,3,1],
[1,3,11,9,9,7,9,5,3,2,2,0,35,3,1],[1,2,11,9,9,7,9,5,3,2,2,0,36,3,1],[1,2,9,7,7,6,7,4,2,1,2,0,48,3,1],[1,2,9,7,7,6,7,4,2,2,1,0,48,3,1],[1,2,12,10,9,8,10,6,3,2,2,0,31,3,1],[1,2,12,10,9,8,10,6,3,2,2,0,31,3,1],
[1,2,11,9,8,7,9,5,3,2,2,0,37,3,1],[1,2,11,9,8,7,8,5,2,2,2,0,38,3,2],[1,2,11,8,8,7,8,5,2,2,2,0,40,2,2],[1,2,10,8,8,7,8,5,2,2,2,2,38,3,2],[1,2,12,10,9,8,10,6,3,2,2,0,30,2,3],[1,2,11,9,8,7,9,5,2,2,2,0,37,2,3]];

const W08_Treated = [
[5,55,4,3,3,3,4,3,1,1,1,0,13,3,1],[30,25,5,4,4,3,4,3,1,1,1,0,14,4,1],[14,6,10,8,7,6,8,5,2,2,2,0,25,4,1],[2,10,11,9,8,7,9,6,3,2,2,0,26,4,1],[1,3,13,10,9,8,10,6,3,3,3,0,25,4,2],[0,2,12,10,9,7,10,6,3,2,2,0,31,4,2],
[0,4,14,11,10,8,11,7,3,3,3,0,20,4,2],[0,1,13,10,9,8,10,7,3,3,3,0,27,3,3],[0,2,12,9,9,7,10,6,3,2,2,0,32,4,2],[0,3,14,11,10,8,11,7,3,3,3,0,22,3,2],[0,6,13,10,9,8,10,6,3,3,3,0,24,4,1],[0,1,12,10,9,7,10,6,3,2,2,0,32,4,2],
[0,2,13,10,9,8,10,7,3,3,3,0,27,3,2],[0,4,14,11,10,8,11,7,3,3,3,0,21,4,1],[0,1,11,9,8,7,9,6,3,2,2,0,37,3,2],[0,2,13,10,9,8,10,6,3,3,3,0,27,3,3],[0,8,12,10,9,7,10,6,3,2,2,0,26,4,1],[0,3,14,11,10,8,11,7,3,3,3,0,22,3,2],
[0,1,12,9,9,7,10,6,3,2,2,0,34,3,2],[0,2,13,10,9,8,10,7,3,3,3,0,26,4,2],[0,4,14,11,10,8,11,7,3,3,3,0,21,3,2],[0,1,12,10,9,7,10,6,3,2,2,0,32,4,2],[0,3,13,10,9,8,10,6,3,3,3,0,26,4,2],[0,2,11,9,8,7,9,6,3,2,2,0,37,3,1],
[0,5,14,11,10,8,11,7,3,3,3,0,20,4,1],[0,1,13,10,9,8,10,7,3,3,3,0,27,3,2],[0,2,12,10,9,7,10,6,3,2,2,0,31,4,2],[0,7,13,10,9,8,10,6,3,3,3,0,23,3,2],[0,1,14,11,10,8,11,7,3,3,3,0,23,3,3],[0,3,12,9,9,7,10,6,3,2,2,0,32,4,1],
[0,2,13,10,9,8,10,7,3,3,3,0,27,3,2],[0,1,11,9,8,7,9,6,3,2,2,0,38,3,1],[0,4,14,11,10,8,11,7,3,3,3,0,21,4,1],[0,2,13,10,9,8,10,6,3,3,3,0,27,3,2],[0,6,12,10,9,7,10,6,3,2,2,0,28,4,1],[0,1,13,10,9,8,10,7,3,3,3,0,27,3,2],
[0,3,14,11,10,8,11,7,3,3,3,0,21,4,2],[0,2,12,9,9,7,10,6,3,2,2,0,33,3,2],[0,1,13,10,9,8,10,6,3,3,3,0,28,3,2],[0,5,12,10,9,7,10,6,3,2,2,0,29,4,1],[0,2,14,11,10,8,11,7,3,3,3,0,22,4,2],[24,3,10,8,7,6,8,5,2,2,2,0,18,4,1],
[0,4,13,10,9,8,10,7,3,3,3,0,26,3,1],[0,1,12,10,9,7,10,6,3,2,2,0,33,3,2],[0,2,14,11,10,8,11,7,3,3,3,0,22,3,3],[0,6,13,10,9,8,10,6,3,3,3,0,24,4,1],[0,1,11,9,8,7,9,6,3,2,2,0,37,3,2],[0,3,13,10,9,8,10,7,3,3,3,0,25,4,2],
[0,2,14,11,10,8,11,7,3,3,3,0,22,4,2],[0,4,12,10,9,7,10,6,3,2,2,0,30,4,1],[0,1,13,10,9,8,10,6,3,3,3,0,28,3,2],[0,2,12,9,9,7,10,6,3,2,2,0,33,3,2],[0,5,14,11,10,8,11,7,3,3,3,0,20,4,1],[0,1,13,10,9,8,10,7,3,3,3,0,27,3,2],
[0,3,12,10,9,7,10,6,3,2,2,0,31,3,2],[0,2,14,11,10,8,11,7,3,3,3,0,22,4,2],[0,8,12,9,9,7,10,6,3,2,2,0,27,3,2],[0,1,13,10,9,8,10,6,3,3,3,0,28,3,2],[0,2,12,10,9,7,10,6,3,2,2,0,32,3,2],[0,57,5,4,4,3,4,3,1,1,1,0,12,3,2],
[0,3,14,11,10,8,11,7,3,3,3,0,21,4,2],[0,2,50,6,4,3,4,3,1,1,1,0,20,4,1],[0,1,13,10,9,8,10,7,3,3,3,0,28,3,2],[0,4,12,10,9,7,10,6,3,2,2,0,30,3,2],[0,2,14,11,10,8,11,7,3,3,3,0,22,4,2],[0,1,12,9,9,7,10,6,3,2,2,0,34,3,2],
[0,3,13,10,9,8,10,6,3,3,3,0,27,3,2],[0,6,14,11,10,8,11,7,3,3,3,0,19,4,1],[0,2,12,10,9,7,10,6,3,2,2,0,32,3,2],[0,1,13,10,9,8,10,7,3,3,3,0,28,3,2],[0,3,11,9,8,7,9,6,3,2,2,0,36,3,1],[0,2,14,11,10,8,11,7,3,3,3,0,22,4,2],
[0,4,13,10,9,8,10,6,3,3,3,0,26,3,2],[0,1,12,10,9,7,10,6,3,2,2,0,33,3,2],[0,2,14,11,10,8,11,7,3,3,3,0,22,4,2],[0,5,12,9,9,7,10,6,3,2,2,0,30,4,1],[0,1,13,10,9,8,10,7,3,3,3,0,28,3,2],[0,3,12,10,9,7,10,6,3,2,2,0,31,3,2],
[0,2,14,11,10,8,11,7,3,3,3,0,22,4,2],[0,1,11,9,8,7,9,6,3,2,2,0,38,3,1],[0,4,13,10,9,8,10,6,3,3,3,0,26,3,2],[0,2,12,10,9,7,10,6,3,2,2,0,32,3,2],[0,1,14,11,10,8,11,7,3,3,3,0,23,3,3],[0,3,13,10,9,8,10,7,3,3,3,0,25,4,2]];

const W08_Untreated = [
[3,6,12,9,8,7,8,5,2,2,2,0,30,4,2],[2,2,11,9,8,7,8,5,2,2,2,0,36,4,2],[1,3,10,8,7,6,7,4,2,2,2,0,43,3,2],[0,2,9,7,7,6,7,4,2,1,2,0,48,3,2],[1,2,10,8,8,6,8,5,2,2,2,0,41,3,2],[0,3,9,7,7,6,7,4,2,2,2,0,46,4,1],
[1,5,10,8,7,6,7,4,2,2,2,0,41,3,2],[0,2,8,6,6,5,6,3,2,1,1,0,55,3,2],[1,2,9,7,7,6,7,4,2,2,2,0,47,3,1],[0,2,11,9,8,7,8,5,2,2,2,0,38,3,2],[1,3,10,8,7,6,7,4,2,2,2,0,43,4,1],[0,2,9,7,7,5,6,4,2,1,2,0,50,3,2],
[1,2,10,8,8,6,8,5,2,2,2,0,40,4,2],[0,3,9,7,7,6,7,4,2,2,2,0,46,3,2],[1,2,11,9,8,7,8,5,2,2,2,0,37,4,2],[0,2,8,7,6,5,6,3,2,1,1,0,54,3,2],[1,3,10,8,7,6,7,4,2,2,2,0,43,3,2],[0,2,9,7,7,6,7,4,2,2,2,0,47,3,2],
[1,2,10,8,8,6,8,5,2,2,2,0,41,3,2],[0,4,11,9,8,7,8,5,2,2,2,0,36,4,2],[1,2,9,7,7,5,6,4,2,1,2,0,50,3,1],[0,3,10,8,7,6,7,4,2,2,2,0,44,3,2],[1,2,8,6,6,5,6,3,2,1,1,0,54,3,2],[0,2,10,8,8,6,8,5,2,2,2,0,42,3,2],
[1,3,11,9,8,7,8,5,2,2,2,0,37,3,2],[0,2,9,7,7,6,7,4,2,2,2,0,47,3,2],[3,6,10,8,7,6,7,4,2,2,2,0,39,3,1],[0,2,10,8,8,6,8,5,2,2,2,0,41,4,2],[1,2,9,7,7,5,6,4,2,1,2,0,49,3,2],[0,3,11,9,8,7,8,5,2,2,2,0,37,4,2],
[1,2,10,8,7,6,7,4,2,2,2,0,44,3,2],[0,2,8,7,6,5,6,3,2,1,1,0,54,3,2],[1,8,10,8,7,6,7,4,2,2,2,0,38,3,2],[0,2,9,7,7,6,7,4,2,2,2,0,47,3,2],[1,3,11,9,8,7,8,5,2,2,2,0,37,3,2],[0,2,10,8,8,6,8,5,2,2,2,0,41,4,2],
[1,2,9,7,7,5,6,4,2,1,2,0,50,3,1],[0,3,10,8,7,6,7,4,2,2,2,0,44,3,2],[2,2,11,9,8,7,8,5,2,2,2,0,37,3,2],[0,2,8,6,6,5,6,3,2,1,1,0,55,3,2],[1,3,10,8,8,6,8,5,2,2,2,0,40,3,2],[0,2,9,7,7,6,7,4,2,2,2,0,47,3,2],
[1,2,11,9,8,7,8,5,2,2,2,0,38,3,2],[0,3,10,8,7,6,7,4,2,2,2,0,44,3,2],[1,2,9,7,7,5,6,4,2,1,2,0,49,3,2],[0,2,10,8,8,6,8,5,2,2,2,0,42,3,2],[1,3,11,9,8,7,8,5,2,2,2,0,36,4,2],[0,2,8,7,6,5,6,3,2,1,1,0,54,3,2],
[1,2,10,8,7,6,7,4,2,2,2,0,44,3,2],[0,3,9,7,7,6,7,4,2,2,2,0,46,3,2],[1,2,11,9,8,7,8,5,2,2,2,0,37,4,2],[0,2,10,8,8,6,8,5,2,2,2,0,41,3,3],[1,2,9,7,7,5,6,4,2,1,2,0,50,3,1],[0,3,10,8,7,6,7,4,2,2,2,0,44,3,2],
[1,2,8,6,6,5,6,3,2,1,1,0,55,3,1],[0,2,11,9,8,7,8,5,2,2,2,0,37,4,3],[1,3,10,8,8,6,8,5,2,2,2,0,40,3,2],[0,2,9,7,7,6,7,4,2,2,2,0,47,3,2],[1,2,10,8,7,6,7,4,2,2,2,0,44,3,2],[0,3,11,9,8,7,8,5,2,2,2,0,37,3,3],
[1,2,9,7,7,5,6,4,2,1,2,0,49,3,2],[0,2,10,8,8,6,8,5,2,2,2,0,42,3,2],[1,3,8,7,6,5,6,3,2,1,1,0,53,3,1],[0,2,11,9,8,7,8,5,2,2,2,0,37,4,2],[1,2,10,8,7,6,7,4,2,2,2,0,44,3,2],[0,3,9,7,7,6,7,4,2,2,2,0,46,3,2],
[1,2,10,8,8,6,8,5,2,2,2,0,41,3,2],[0,2,9,7,7,5,6,4,2,1,2,0,50,3,2],[1,3,11,9,8,7,8,5,2,2,2,0,37,3,2],[0,2,10,8,7,6,7,4,2,2,2,0,45,3,2],[1,2,8,6,6,5,6,3,2,1,1,0,55,3,1],[0,3,10,8,8,6,8,5,2,2,2,0,41,3,2],
[1,2,11,9,8,7,8,5,2,2,2,0,37,4,2],[0,2,9,7,7,6,7,4,2,2,2,0,47,3,2],[1,3,10,8,7,6,7,4,2,2,2,0,43,3,2],[0,2,10,8,8,6,8,5,2,2,2,0,42,3,2],[1,2,9,7,7,5,6,4,2,1,2,0,49,3,2],[0,3,11,9,8,7,8,5,2,2,2,0,36,4,3],
[1,2,10,8,7,6,7,4,2,2,2,0,44,3,2],[0,2,12,10,9,7,9,6,3,2,2,0,32,3,2],[1,3,13,10,10,8,10,6,3,2,3,0,26,3,2],[0,2,12,10,9,8,10,6,3,2,2,0,30,3,3],[1,2,14,11,10,8,11,7,3,3,3,0,22,3,2],[2,2,15,12,11,9,11,7,3,3,3,0,17,3,2]];

const W14_Treated = [
[2,3,24,12,10,8,11,7,3,3,2,0,11,3,1],[4,1,25,12,10,8,11,7,3,3,2,0,10,3,1],[1,3,22,11,10,8,10,6,3,3,2,0,17,3,1],[0,1,20,10,9,7,10,6,3,2,2,0,26,3,1],[0,2,24,12,10,8,11,7,3,3,2,0,14,3,1],[3,1,26,12,11,8,11,7,3,3,2,0,9,3,1],
[0,1,22,11,10,8,10,6,3,3,2,0,20,3,1],[0,2,18,10,9,7,9,6,3,2,2,0,28,3,1],[1,1,24,12,10,8,11,7,3,3,2,0,14,3,1],[0,2,27,13,11,8,11,7,3,3,2,0,9,3,1],[0,1,21,11,10,8,10,6,3,3,2,0,21,3,1],[0,1,18,9,8,7,9,5,3,2,2,0,32,3,1],
[0,2,23,12,10,8,11,7,3,3,2,0,15,3,1],[0,1,26,12,11,8,11,7,3,3,2,0,12,3,1],[0,1,20,10,9,7,10,6,3,2,2,0,26,3,1],[0,2,24,12,10,8,11,7,3,3,2,0,14,3,1],[0,1,19,10,9,7,9,6,3,2,2,0,28,3,1],[0,1,25,12,11,8,11,7,3,3,2,0,13,3,1],
[1,1,22,11,10,8,10,6,3,3,2,0,19,3,1],[0,2,27,13,11,8,11,7,3,3,2,0,9,3,1],[0,1,21,11,10,8,10,6,3,3,2,0,20,3,2],[0,1,24,12,10,8,11,7,3,3,2,0,14,3,1],[4,1,23,12,10,8,11,7,3,3,2,0,12,3,1],[0,2,20,10,9,7,10,6,3,2,2,0,25,3,1],
[0,1,25,12,11,8,11,7,3,3,2,0,13,3,1],[0,1,22,11,10,8,10,6,3,3,2,0,19,3,1],[0,2,26,12,11,8,11,7,3,3,2,0,11,3,1],[0,1,19,10,9,7,9,6,3,2,2,0,29,2,1],[0,1,24,12,10,8,11,7,3,3,2,0,15,3,1],[0,2,21,11,10,8,10,6,3,3,2,0,19,4,1],
[0,1,27,13,11,8,11,7,3,3,2,0,9,3,1],[0,1,23,12,10,8,11,7,3,3,2,0,16,3,1],[0,2,20,10,9,7,10,6,3,2,2,0,25,3,1],[0,1,25,12,11,8,11,7,3,3,2,0,13,3,1],[0,1,22,11,10,8,10,6,3,3,2,0,19,3,1],[0,2,24,12,10,8,11,7,3,3,2,0,14,3,1],
[0,1,19,10,9,7,9,6,3,2,2,0,28,3,1],[0,1,26,12,11,8,11,7,3,3,2,0,11,3,2],[0,2,22,11,10,8,10,6,3,3,2,0,19,3,1],[1,1,24,12,10,8,11,7,3,3,2,0,14,3,1],[0,1,21,11,10,8,10,6,3,3,2,0,21,3,1],[0,2,25,12,11,8,11,7,3,3,2,0,12,3,1],
[0,1,23,12,10,8,11,7,3,3,2,0,16,3,1],[0,1,20,10,9,7,10,6,3,2,2,0,26,3,1],[0,2,26,13,11,8,11,7,3,3,2,0,10,3,1],[0,1,22,11,10,8,10,6,3,3,2,0,20,3,1],[0,1,24,12,10,8,11,7,3,3,2,0,15,3,1],[0,2,21,11,10,8,10,6,3,3,2,0,20,3,1],
[0,1,25,12,11,8,11,7,3,3,2,0,13,3,1],[0,1,19,10,9,7,9,6,3,2,2,0,29,2,1],[0,2,24,12,10,8,11,7,3,3,2,0,14,3,1],[0,1,22,11,10,8,10,6,3,3,2,0,19,3,2],[0,1,26,12,11,8,11,7,3,3,2,0,12,3,1],[0,2,23,12,10,8,11,7,3,3,2,0,15,3,1],
[0,1,20,10,9,7,10,6,3,2,2,0,26,3,1],[0,1,25,12,11,8,11,7,3,3,2,0,13,3,1],[0,2,22,11,10,8,10,6,3,3,2,0,19,3,1],[7,1,22,11,10,8,10,6,3,3,2,0,13,3,1],[0,1,24,12,10,8,11,7,3,3,2,0,15,3,1],[0,2,21,11,10,8,10,6,3,3,2,0,20,3,1],
[0,1,25,12,11,8,11,7,3,3,2,0,13,3,1],[0,1,23,12,10,8,11,7,3,3,2,0,16,3,1]];

const W14_Untreated = [
[3,4,22,11,10,8,10,6,3,3,2,0,14,3,1],[1,2,24,12,10,8,11,7,3,3,2,0,13,3,1],[3,1,21,11,10,8,10,6,3,3,2,0,18,3,1],[0,2,19,10,9,7,9,6,3,2,2,0,27,3,1],[1,1,23,12,10,8,11,7,3,3,2,0,15,3,1],[0,2,25,12,11,8,11,7,3,3,2,0,12,3,1],
[0,1,21,11,10,8,10,6,3,3,2,0,21,3,1],[0,1,18,9,8,7,9,5,3,2,2,0,32,3,1],[0,2,23,12,10,8,11,7,3,3,2,0,16,2,1],[0,1,26,12,11,8,11,7,3,3,2,0,12,2,2],[0,1,20,10,9,7,10,6,3,2,2,0,26,3,1],[0,2,24,12,10,8,11,7,3,3,2,0,14,3,1],
[0,1,22,11,10,8,10,6,3,3,2,0,19,3,2],[0,1,19,10,9,7,9,6,3,2,2,0,28,3,1],[0,2,25,12,11,8,11,7,3,3,2,0,12,3,1],[0,1,21,11,10,8,10,6,3,3,2,0,20,3,1],[0,1,24,12,10,8,11,7,3,3,2,0,15,3,1],[0,2,20,10,9,7,10,6,3,2,2,0,25,3,1],
[0,1,17,9,8,6,8,5,2,2,2,0,36,3,1],[0,1,23,12,10,8,11,7,3,3,2,0,15,3,2],[0,2,26,12,11,8,11,7,3,3,2,0,11,3,1],[0,1,22,11,10,8,10,6,3,3,2,0,19,3,1],[0,1,19,10,9,7,9,6,3,2,2,0,29,2,1],[0,2,24,12,10,8,11,7,3,3,2,0,14,3,1],
[0,1,21,11,10,8,10,6,3,3,2,0,20,3,1],[0,1,25,12,11,8,11,7,3,3,2,0,13,2,1],[0,2,20,10,9,7,10,6,3,2,2,0,25,3,1],[0,1,23,12,10,8,11,7,3,3,2,0,15,3,1],[0,1,18,9,8,7,9,5,3,2,2,0,32,3,1],[0,2,24,12,10,8,11,7,3,3,2,0,14,3,1],
[0,1,22,11,10,8,10,6,3,3,2,0,19,3,1],[0,1,26,12,11,8,11,7,3,3,2,0,12,2,1],[0,2,21,11,10,8,10,6,3,3,2,0,19,3,1],[0,1,19,10,9,7,9,6,3,2,2,0,29,2,1],[0,1,24,12,10,8,11,7,3,3,2,0,14,3,1],[0,2,22,11,10,8,10,6,3,3,2,0,18,3,1],
[0,1,25,12,11,8,11,7,3,3,2,0,13,2,1],[0,1,20,10,9,7,10,6,3,2,2,0,26,2,1],[0,2,23,12,10,8,11,7,3,3,2,0,15,3,1],[0,1,21,11,10,8,10,6,3,3,2,0,20,3,1],[0,1,26,12,11,8,11,7,3,3,2,0,11,3,1],[0,2,24,12,10,8,11,7,3,3,2,0,14,3,1],
[0,1,19,10,9,7,9,6,3,2,2,0,28,3,1],[0,1,22,11,10,8,10,6,3,3,2,0,19,3,2],[0,2,25,12,11,8,11,7,3,3,2,0,12,3,1],[0,1,20,10,9,7,10,6,3,2,2,0,26,2,1],[0,1,24,12,10,8,11,7,3,3,2,0,15,2,1],[0,2,21,11,10,8,10,6,3,3,2,0,20,3,1],
[0,1,23,12,10,8,11,7,3,3,2,0,16,2,1],[0,1,26,12,11,8,11,7,3,3,2,0,11,3,1],[0,2,19,10,9,7,9,6,3,2,2,0,28,2,1],[0,1,22,11,10,8,10,6,3,3,2,0,19,3,1],[0,1,24,12,10,8,11,7,3,3,2,0,15,2,1],[0,2,21,11,10,8,10,6,3,3,2,0,20,3,1],
[0,14,20,9,8,7,9,6,3,2,2,0,16,3,1],[0,1,25,12,11,8,11,7,3,3,2,0,13,2,1],[0,2,22,11,10,8,10,6,3,3,2,0,19,3,1],[0,1,20,10,9,7,10,6,3,2,2,0,26,2,1],[0,1,24,12,10,8,11,7,3,3,2,0,15,2,1],[0,2,26,12,11,8,11,7,3,3,2,0,11,3,1],
[0,1,21,11,10,8,10,6,3,3,2,0,20,3,1],[0,1,23,12,10,8,11,7,3,3,2,0,16,2,1],[0,2,19,10,9,7,9,6,3,2,2,0,28,3,1],[0,1,25,12,11,8,11,7,3,3,2,0,13,2,1],[0,1,22,11,10,8,10,6,3,3,2,0,19,3,1],[0,2,24,12,10,8,11,7,3,3,2,0,14,3,1],
[0,1,20,10,9,7,10,6,3,2,2,0,26,3,1],[0,1,23,12,10,8,11,7,3,3,2,0,16,2,1],[0,2,26,12,11,8,11,7,3,3,2,0,11,3,1],[0,1,21,11,10,8,10,6,3,3,2,0,20,3,1],[0,1,18,9,8,7,9,5,3,2,2,0,33,2,1],[0,2,24,12,10,8,11,7,3,3,2,0,14,3,1],
[0,1,22,11,10,8,10,6,3,3,2,0,19,3,1],[0,1,25,12,11,8,11,7,3,3,2,0,13,2,1],[0,2,20,10,9,7,10,6,3,2,2,0,25,3,1],[0,1,23,12,10,8,11,7,3,3,2,0,16,2,1],[0,1,21,11,10,8,10,6,3,3,2,0,20,3,1],[0,2,24,12,10,8,11,7,3,3,2,0,14,3,1],
[0,1,19,10,9,7,9,6,3,2,2,0,29,2,1],[0,1,22,11,10,8,10,6,3,3,2,0,19,3,1],[0,2,25,12,11,8,11,7,3,3,2,0,12,3,1],[0,1,20,10,9,7,10,6,3,2,2,0,25,3,1],[1,1,23,12,10,8,11,7,3,3,2,0,15,3,1],[3,2,20,10,9,7,10,6,3,2,2,0,30,3,1]];

const tables = [W02_Treated, W02_Untreated, W04_Treated, W04_Untreated, W05_Treated, W05_Untreated, W06_Treated, W06_Untreated, W07_Treated, W07_Untreated, W08_Treated, W08_Untreated, W14_Treated, W14_Untreated];

// ---------------- layout ----------------
const SANS = "'Liberation Sans', Arial, Helvetica, sans-serif";
const SERIF = "'Liberation Serif', 'Times New Roman', serif";
const colLeft = [86, 484, 881], rowTop = [84, 484, 884], PW = 186, PH = 263, UOFF = 199;

const grid = [], xAxis = [], yAxis = [], series = [], graphic = [];
tables.forEach((rows, k) => {
  const w = Math.floor(k / 2), g = k % 2, r = Math.floor(w / 3), c = w % 3;
  const left = colLeft[c] + g * UOFF;
  grid.push({ left: left, top: rowTop[r], width: PW, height: PH, show: true, borderColor: '#d4d4d4', borderWidth: 1, backgroundColor: '#ffffff' });
  xAxis.push({
    type: 'category', gridIndex: k, data: rows.map((_, i) => 'S' + (i + 1)),
    axisLabel: { show: false },
    axisTick: { show: true, alignWithLabel: true, interval: 0, length: 4, lineStyle: { color: '#9a9a9a', width: 1 } },
    axisLine: { show: true, lineStyle: { color: '#d4d4d4', width: 1 } },
    name: groups[g], nameLocation: 'middle', nameGap: 12,
    nameTextStyle: { fontFamily: SERIF, fontSize: 24, color: '#000', verticalAlign: 'top' }
  });
  const showY = (c === 0 && g === 0);
  yAxis.push({
    type: 'value', gridIndex: k, min: 0, max: 1, interval: 0.25,
    splitLine: { show: false }, axisLine: { show: false },
    axisTick: { show: showY, length: 5, lineStyle: { color: '#8a8a8a' } },
    axisLabel: { show: showY, formatter: v => v.toFixed(2), fontFamily: SANS, fontSize: 18, color: '#1a1a1a', margin: 9 }
  });
  categories.forEach((cat, j) => {
    series.push({
      type: 'bar', name: cat, xAxisIndex: k, yAxisIndex: k, stack: 'st' + k,
      data: rows.map(row => { const t = row.reduce((a, b) => a + b, 0); return row[j] / t; }),
      itemStyle: { color: colors[j] }, barCategoryGap: '0%', silent: true
    });
  });
});

// facet strips
weeks.forEach((wk, w) => {
  const r = Math.floor(w / 3), c = w % 3, x0 = colLeft[c], top = rowTop[r];
  graphic.push({ type: 'rect', silent: true, shape: { x: x0, y: top - 72, width: PW + UOFF, height: 36 }, style: { fill: '#b3b3b3' } });
  graphic.push({ type: 'rect', silent: true, shape: { x: x0, y: top - 37, width: PW, height: 37 }, style: { fill: '#b3b3b3' } });
  graphic.push({ type: 'rect', silent: true, shape: { x: x0 + UOFF, y: top - 37, width: PW, height: 37 }, style: { fill: '#b3b3b3' } });
  graphic.push({ type: 'text', silent: true, x: x0 + (PW + UOFF) / 2, y: top - 55,
    style: { text: wk, fill: '#ffffff', fontFamily: SANS, fontSize: 18.5, align: 'center', verticalAlign: 'middle', textAlign: 'center', textVerticalAlign: 'middle' } });
});

// y axis title
graphic.push({ type: 'text', silent: true, x: 20, y: 615, rotation: Math.PI / 2,
  style: { text: 'Abundance', fill: '#000', fontFamily: SANS, fontSize: 22.5, align: 'center', verticalAlign: 'middle', textAlign: 'center', textVerticalAlign: 'middle' } });

// legend
graphic.push({ type: 'text', silent: true, x: 625, y: 893,
  style: { text: 'Phylum and family', fill: '#000', fontFamily: SANS, fontSize: 23.5, align: 'left', verticalAlign: 'middle', textAlign: 'left', textVerticalAlign: 'middle' } });
legendRows.forEach((it, i) => {
  const col = i < 11 ? 0 : 1, row = i % 11;
  const kx = col === 0 ? 625 : 871, tx = col === 0 ? 658 : 904;
  const cy = 923.5 + row * 21.5;
  if (it[1] >= 0) {
    graphic.push({ type: 'rect', silent: true, shape: { x: kx, y: cy - 10, width: 20.5, height: 20 }, style: { fill: colors[it[1]] } });
  }
  graphic.push({ type: 'text', silent: true, x: tx, y: cy,
    style: { text: it[0], fill: '#000', fontFamily: SANS, fontSize: 18.8, fontWeight: it[1] < 0 ? 'bold' : 'normal', align: 'left', verticalAlign: 'middle', textAlign: 'left', textVerticalAlign: 'middle' } });
});

const chart = echarts.init(document.getElementById('c'), null, { renderer: 'canvas', width: 1266, height: 1178 });
chart.setOption({ animation: false, backgroundColor: '#ffffff', grid, xAxis, yAxis, series, graphic });
</script>
</body></html>
